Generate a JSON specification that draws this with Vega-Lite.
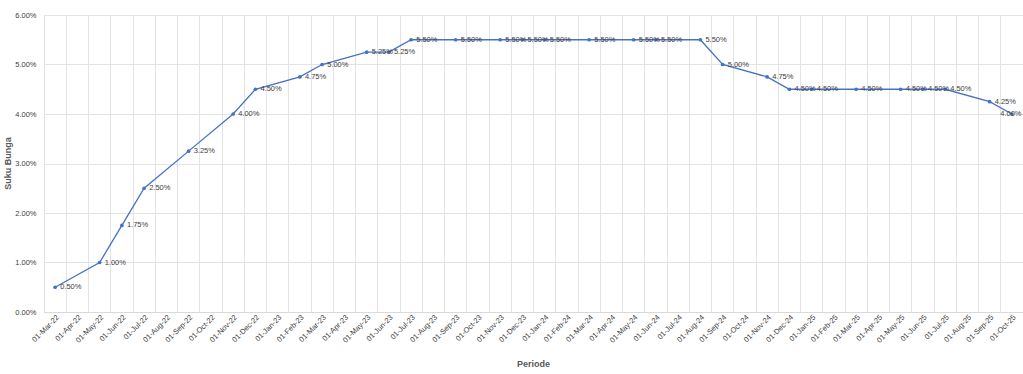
{
  "$schema": "https://vega.github.io/schema/vega-lite/v6.json",
  "width": 979,
  "height": 297,
  "autosize": {"type": "none"},
  "padding": {"left": 44, "top": 15, "right": 0, "bottom": 62},
  "background": "white",
  "config": {
    "view": {"stroke": null},
    "font": "Liberation Sans"
  },
  "data": {
    "values": [
      {"Periode": "01-Mar-22", "Suku": 0.005},
      {"Periode": "01-May-22", "Suku": 0.01},
      {"Periode": "01-Jun-22", "Suku": 0.0175},
      {"Periode": "01-Jul-22", "Suku": 0.025},
      {"Periode": "01-Sep-22", "Suku": 0.0325},
      {"Periode": "01-Nov-22", "Suku": 0.04},
      {"Periode": "01-Dec-22", "Suku": 0.045},
      {"Periode": "01-Feb-23", "Suku": 0.0475},
      {"Periode": "01-Mar-23", "Suku": 0.05},
      {"Periode": "01-May-23", "Suku": 0.0525},
      {"Periode": "01-Jun-23", "Suku": 0.0525},
      {"Periode": "01-Jul-23", "Suku": 0.055},
      {"Periode": "01-Sep-23", "Suku": 0.055},
      {"Periode": "01-Nov-23", "Suku": 0.055},
      {"Periode": "01-Dec-23", "Suku": 0.055},
      {"Periode": "01-Jan-24", "Suku": 0.055},
      {"Periode": "01-Mar-24", "Suku": 0.055},
      {"Periode": "01-May-24", "Suku": 0.055},
      {"Periode": "01-Jun-24", "Suku": 0.055},
      {"Periode": "01-Aug-24", "Suku": 0.055},
      {"Periode": "01-Sep-24", "Suku": 0.05},
      {"Periode": "01-Nov-24", "Suku": 0.0475},
      {"Periode": "01-Dec-24", "Suku": 0.045},
      {"Periode": "01-Jan-25", "Suku": 0.045},
      {"Periode": "01-Mar-25", "Suku": 0.045},
      {"Periode": "01-May-25", "Suku": 0.045},
      {"Periode": "01-Jun-25", "Suku": 0.045},
      {"Periode": "01-Jul-25", "Suku": 0.045},
      {"Periode": "01-Sep-25", "Suku": 0.0425},
      {"Periode": "01-Oct-25", "Suku": 0.04}
    ]
  },
  "encoding": {
    "x": {
      "field": "Periode",
      "type": "nominal",
      "scale": {
        "type": "band",
        "paddingInner": 0,
        "paddingOuter": 0,
        "domain": ["01-Mar-22","01-Apr-22","01-May-22","01-Jun-22","01-Jul-22","01-Aug-22","01-Sep-22","01-Oct-22","01-Nov-22","01-Dec-22",
                   "01-Jan-23","01-Feb-23","01-Mar-23","01-Apr-23","01-May-23","01-Jun-23","01-Jul-23","01-Aug-23","01-Sep-23","01-Oct-23","01-Nov-23","01-Dec-23",
                   "01-Jan-24","01-Feb-24","01-Mar-24","01-Apr-24","01-May-24","01-Jun-24","01-Jul-24","01-Aug-24","01-Sep-24","01-Oct-24","01-Nov-24","01-Dec-24",
                   "01-Jan-25","01-Feb-25","01-Mar-25","01-Apr-25","01-May-25","01-Jun-25","01-Jul-25","01-Aug-25","01-Sep-25","01-Oct-25"]
      },
      "axis": {
        "title": "Periode",
        "titleFontSize": 9,
        "titleFontWeight": "bold",
        "titleColor": "#595959",
        "titleX": 489,
        "titleY": 51,
        "titleBaseline": "middle",
        "titleAlign": "center",
        "bandPosition": 0,
        "labelOffset": 3,
        "labelAngle": -45,
        "labelAlign": "right",
        "labelBaseline": "middle",
        "labelPadding": 4,
        "labelFontSize": 7.5,
        "labelColor": "#404040",
        "ticks": false,
        "grid": true,
        "gridColor": "#e3e3e3",
        "gridWidth": 1,
        "domainColor": "#d9d9d9",
        "labelOverlap": false
      }
    },
    "y": {
      "field": "Suku",
      "type": "quantitative",
      "scale": {"domain": [0, 0.06], "nice": false},
      "axis": {
        "title": "Suku Bunga",
        "titleFontSize": 9,
        "titleFontWeight": "bold",
        "titleColor": "#595959",
        "titleAngle": -90,
        "titleX": -37,
        "titleY": 148,
        "titleAlign": "center",
        "titleBaseline": "middle",
        "values": [0, 0.01, 0.02, 0.03, 0.04, 0.05, 0.06],
        "format": ".2%",
        "labelFontSize": 7.5,
        "labelColor": "#404040",
        "labelPadding": 8,
        "ticks": false,
        "domain": false,
        "grid": true,
        "gridColor": "#e3e3e3"
      }
    }
  },
  "layer": [
    {"mark": {"type": "line", "color": "#4472C4", "strokeWidth": 1.3}},
    {"mark": {"type": "point", "filled": true, "color": "#4472C4", "size": 14, "opacity": 1}},
    {
      "transform": [{"filter": "datum.Periode !== '01-Oct-25'"}],
      "mark": {"type": "text", "align": "left", "baseline": "middle", "dx": 5, "fontSize": 7.5, "color": "#404040"},
      "encoding": {"text": {"field": "Suku", "type": "quantitative", "format": ".2%"}}
    },
    {
      "transform": [{"filter": "datum.Periode === '01-Oct-25'"}],
      "mark": {"type": "text", "align": "center", "baseline": "middle", "dx": -1, "fontSize": 7.5, "color": "#404040"},
      "encoding": {"text": {"field": "Suku", "type": "quantitative", "format": ".2%"}}
    }
  ]
}
